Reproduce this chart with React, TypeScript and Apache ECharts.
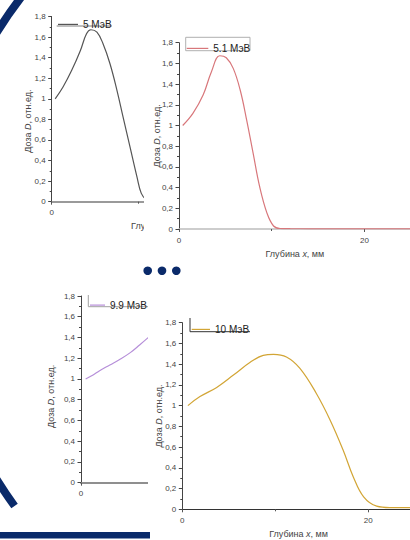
import React, { useEffect, useRef } from "react";
import * as echarts from "echarts";

// Depth (mm) and relative dose for each electron energy
const depth5 = [0.4, 1.3, 2.3, 3.3, 4.0, 4.5, 5.2, 5.9, 6.7, 7.5, 8.2, 9.0, 9.8, 10.3, 10.9, 11.5, 13, 16];
const dose5 = [1.0, 1.115, 1.277, 1.47, 1.632, 1.671, 1.648, 1.535, 1.341, 1.083, 0.824, 0.533, 0.242, 0.081, 0.016, 0.004, 0.002, 0.002];

const depth51 = [0.4, 1.5, 2.6, 3.5, 4.4, 5.1, 5.85, 6.6, 7.3, 8.0, 8.7, 9.5, 10.2, 10.9, 12, 14, 18, 22, 25];
const dose51 = [1.0, 1.117, 1.294, 1.52, 1.674, 1.655, 1.552, 1.343, 1.053, 0.731, 0.409, 0.151, 0.029, 0.005, 0.003, 0.002, 0.002, 0.002, 0.002];

const depth99 = [0.5, 1.3, 2.0, 3.1, 4.2, 5.3, 6.3, 7.5];
const dose99 = [1.0, 1.038, 1.08, 1.135, 1.19, 1.254, 1.328, 1.42];

const depth10 = [0.6, 1.9, 3.7, 5.5, 7.3, 8.7, 9.8, 11.2, 12.65, 14.4, 15.9, 17.3, 18.4, 19.5, 20.9, 22.3, 25];
const dose10 = [1.0, 1.087, 1.176, 1.295, 1.418, 1.485, 1.495, 1.47, 1.36, 1.12, 0.86, 0.57, 0.31, 0.12, 0.03, 0.016, 0.016];

const energyLabels = ["5 МэВ", "5.1 МэВ", "9.9 МэВ", "10 МэВ"];
const doseAxisMax = 1.8;
const doseStep = 0.2;
const depthStep = 20;
const depthTitle = "Глубина {i|x}, мм";
const doseTitle = "Доза {i|D}, отн.ед.";

const NAVY = "#0a2a6a";
const FONT = "Liberation Sans, Arial, sans-serif";

const pairs = (xs: number[], ys: number[]) => xs.map((x, i) => [x, ys[i]]);

type Panel = {
  box: { left: number; top: number; width: number; height: number };
  grid: { left: number; top: number; width: number; height: number };
  depthMax: number;
  data: number[][];
  name: string;
  color: string;
  xLine: { color: string; width: number };
  xNameGap: number;
  yNameGap: number;
  yNamePad: number[];
  legend: { left: number; lineY: number; itemWidth: number };
  legendFrame: any[];
};

const panels: Panel[] = [
  {
    box: { left: 0, top: 0, width: 400, height: 240 },
    grid: { left: 51.7, top: 16.5, width: 217.5, height: 185.2 },
    depthMax: 25,
    data: pairs(depth5, dose5),
    name: energyLabels[0],
    color: "#555555",
    xLine: { color: "#9a9a9a", width: 2 },
    xNameGap: 16,
    yNameGap: 19,
    yNamePad: [0, 24, 0, 0],
    legend: { left: 58, lineY: 20, itemWidth: 20 },
    legendFrame: [
      { type: "line", shape: { x1: 56.7, y1: 26, x2: 111.7, y2: 26 }, style: { stroke: "#a8a8a8", lineWidth: 1.5 } },
    ],
  },
  {
    box: { left: 144, top: 30, width: 300, height: 235 },
    grid: { left: 35, top: 12.7, width: 231.75, height: 186.3 },
    depthMax: 25,
    data: pairs(depth51, dose51),
    name: energyLabels[1],
    color: "#d8777b",
    xLine: { color: "#bdbdbd", width: 1.5 },
    xNameGap: 20,
    yNameGap: 18,
    yNamePad: [0, 0, 0, 0],
    legend: { left: 42.7, lineY: 14, itemWidth: 21.6 },
    legendFrame: [
      { type: "rect", shape: { x: 41.7, y: 7.3, width: 64.3, height: 13.4 }, style: { fill: "none", stroke: "#b0b0b0", lineWidth: 1 } },
    ],
  },
  {
    box: { left: 0, top: 285, width: 300, height: 255 },
    grid: { left: 81, top: 11, width: 232.5, height: 186.7 },
    depthMax: 25,
    data: pairs(depth99, dose99),
    name: energyLabels[2],
    color: "#b68fd9",
    xLine: { color: "#8f8f8f", width: 2 },
    xNameGap: 18,
    yNameGap: 26,
    yNamePad: [0, 14, 0, 0],
    legend: { left: 90, lineY: 15.7, itemWidth: 15 },
    legendFrame: [
      { type: "line", shape: { x1: 88.3, y1: 10, x2: 88.3, y2: 21.7 }, style: { stroke: "#a0a0a0", lineWidth: 1 } },
      { type: "line", shape: { x1: 88.3, y1: 21.7, x2: 170, y2: 21.7 }, style: { stroke: "#a0a0a0", lineWidth: 1 } },
    ],
  },
  {
    box: { left: 148, top: 305, width: 300, height: 235 },
    grid: { left: 34.3, top: 17.7, width: 232.5, height: 186.6 },
    depthMax: 25,
    data: pairs(depth10, dose10),
    name: energyLabels[3],
    color: "#d2a535",
    xLine: { color: "#333333", width: 1 },
    xNameGap: 19,
    yNameGap: 19,
    yNamePad: [0, 0, 0, 0],
    legend: { left: 43.7, lineY: 20, itemWidth: 18.3 },
    legendFrame: [
      { type: "line", shape: { x1: 42, y1: 13, x2: 42, y2: 26.7 }, style: { stroke: "#333", lineWidth: 1 } },
      { type: "line", shape: { x1: 42, y1: 26.7, x2: 102, y2: 26.7 }, style: { stroke: "#333", lineWidth: 1 } },
    ],
  },
];

const doseLabel = (v: number) => String(Math.round(v * 10) / 10).replace(".", ",");

const nameStyle = (pad: number[]) => ({
  fontSize: 9,
  color: "#444",
  fontWeight: "normal",
  fontFamily: FONT,
  padding: pad,
  rich: { i: { fontSize: 9, fontStyle: "italic", color: "#444", fontFamily: FONT } },
});

function panelOption(p: Panel): any {
  const iconH = 1.2;
  return {
    animation: false,
    textStyle: { fontFamily: FONT },
    grid: { ...p.grid, containLabel: false, outerBoundsMode: "none" },
    legend: {
      left: p.legend.left,
      top: p.legend.lineY - iconH / 2,
      icon: "rect",
      itemWidth: p.legend.itemWidth,
      itemHeight: iconH,
      itemStyle: { borderWidth: 0 },
      padding: 0,
      data: [p.name],
      textStyle: { fontSize: 10, color: "#222", fontFamily: FONT },
    },
    xAxis: {
      type: "value",
      min: 0,
      max: p.depthMax,
      interval: depthStep,
      axisLine: { show: true, lineStyle: { color: p.xLine.color, width: p.xLine.width } },
      axisTick: { show: true, length: 3, lineStyle: { color: "#555" } },
      minorTick: { show: true, splitNumber: 2, length: 2, lineStyle: { color: "#555" } },
      splitLine: { show: false },
      axisLabel: { fontSize: 8, color: "#444", margin: 7, showMaxLabel: false, fontFamily: FONT },
      name: depthTitle,
      nameLocation: "middle",
      nameGap: p.xNameGap,
      nameTextStyle: nameStyle([0, 0, 0, 0]),
    },
    yAxis: {
      type: "value",
      min: 0,
      max: doseAxisMax,
      interval: doseStep,
      axisLine: { show: true, lineStyle: { color: "#444", width: 1 } },
      axisTick: { show: true, length: 3.5, lineStyle: { color: "#444" } },
      minorTick: { show: true, splitNumber: 2, length: 2, lineStyle: { color: "#444" } },
      splitLine: { show: false },
      axisLabel: { fontSize: 8, color: "#444", margin: 6, formatter: doseLabel, fontFamily: FONT },
      name: doseTitle,
      nameLocation: "middle",
      nameRotate: 90,
      nameGap: p.yNameGap,
      nameMoveOverlap: false,
      nameTextStyle: nameStyle(p.yNamePad),
    },
    series: [
      {
        type: "line",
        name: p.name,
        data: p.data,
        smooth: 0.4,
        symbol: "none",
        lineStyle: { color: p.color, width: 1.2 },
        itemStyle: { color: p.color },
      },
    ],
    graphic: p.legendFrame,
  };
}

// Slide decoration: a large navy ring arc on the left, three dots and a bottom bar
const decorOption: any = {
  animation: false,
  graphic: [
    {
      type: "arc",
      shape: { cx: 357, cy: 256, r: 424, startAngle: 2.511, endAngle: 3.8, clockwise: true },
      style: { stroke: NAVY, lineWidth: 8, fill: "none" },
    },
    { type: "circle", shape: { cx: 147.7, cy: 270.7, r: 4.3 }, style: { fill: NAVY } },
    { type: "circle", shape: { cx: 162, cy: 270.7, r: 4.3 }, style: { fill: NAVY } },
    { type: "circle", shape: { cx: 176.3, cy: 270.7, r: 4.3 }, style: { fill: NAVY } },
    { type: "rect", shape: { x: 0, y: 532, width: 150, height: 6.5 }, style: { fill: NAVY } },
  ],
};

export default function App() {
  const panelRefs = useRef<(HTMLDivElement | null)[]>([]);
  const decorRef = useRef<HTMLDivElement | null>(null);

  useEffect(() => {
    const charts: echarts.ECharts[] = [];
    panels.forEach((p, i) => {
      const el = panelRefs.current[i];
      if (!el) return;
      const c = echarts.init(el, null, { renderer: "svg" });
      c.setOption(panelOption(p));
      charts.push(c);
    });
    if (decorRef.current) {
      const d = echarts.init(decorRef.current, null, { renderer: "svg" });
      d.setOption(decorOption);
      charts.push(d);
    }
    return () => charts.forEach((c) => c.dispose());
  }, []);

  return (
    <div style={{ position: "fixed", left: 0, top: 0, width: 410, height: 540, overflow: "hidden", background: "#fff" }}>
      {panels.map((p, i) => (
        <div
          key={i}
          ref={(el) => {
            panelRefs.current[i] = el;
          }}
          style={{ position: "absolute", ...p.box, background: "#fff" }}
        />
      ))}
      <div
        ref={decorRef}
        style={{ position: "absolute", left: 0, top: 0, width: 410, height: 540, pointerEvents: "none" }}
      />
    </div>
  );
}
